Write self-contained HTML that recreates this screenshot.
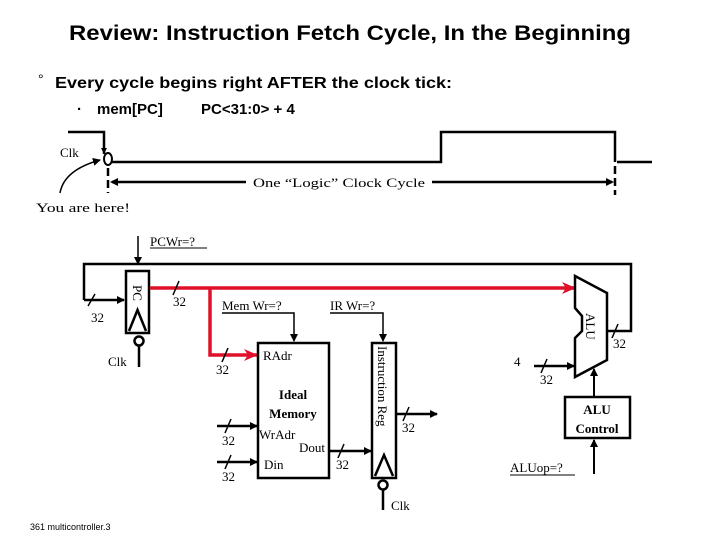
<!DOCTYPE html>
<html><head><meta charset="utf-8"><style>
html,body{margin:0;padding:0;background:#fff;}
svg{display:block;}
.s{font-family:"Liberation Serif",serif;font-size:13px;fill:#000;}
</style></head><body>
<svg width="720" height="540" viewBox="0 0 720 540" xmlns="http://www.w3.org/2000/svg">
<defs>
<marker id="a" markerWidth="8" markerHeight="8" refX="7" refY="4" orient="auto" markerUnits="userSpaceOnUse"><path d="M0,0 L8,4 L0,8 Z" fill="#000"/></marker>
<marker id="r" markerWidth="14" markerHeight="12" refX="13" refY="6" orient="auto" markerUnits="userSpaceOnUse"><path d="M0,0 L14,6 L0,12 L4,6 Z" fill="#e0102a"/></marker>
</defs>
<text x="350" y="40" text-anchor="middle" font-family="Liberation Sans,sans-serif" font-weight="bold" font-size="21" textLength="562" lengthAdjust="spacingAndGlyphs">Review: Instruction Fetch Cycle, In the Beginning</text>
<text x="38" y="84" font-family="Liberation Sans,sans-serif" font-size="14">°</text>
<text x="55" y="88" font-family="Liberation Sans,sans-serif" font-weight="bold" font-size="16" textLength="397" lengthAdjust="spacingAndGlyphs">Every cycle begins right AFTER the clock tick:</text>
<text x="77" y="114" font-family="Liberation Sans,sans-serif" font-weight="bold" font-size="15">·</text>
<text x="97" y="114" font-family="Liberation Sans,sans-serif" font-weight="bold" font-size="15">mem[PC]</text>
<text x="201" y="114" font-family="Liberation Sans,sans-serif" font-weight="bold" font-size="15">PC&lt;31:0&gt; + 4</text>

<!-- clock waveform -->
<g stroke="#000" stroke-width="2.5" fill="none">
<polyline points="68,132 104,132 104,154"/>
<polyline points="111,162 441,162 441,132 615,132 615,162"/>
<line x1="617" y1="162" x2="652" y2="162"/>
<line x1="108" y1="168" x2="108" y2="193" stroke-dasharray="8,4"/>
<line x1="615" y1="166" x2="615" y2="195" stroke-dasharray="8,4"/>
<line x1="112" y1="182" x2="246" y2="182"/>
<line x1="432" y1="182" x2="612" y2="182"/>
</g>
<ellipse cx="108" cy="159" rx="4" ry="6" fill="none" stroke="#000" stroke-width="2"/>
<path d="M104,154 l-3,-6 h6 z" fill="#000"/>
<path d="M110,182 l8,-4 v8 z" fill="#000"/>
<path d="M614,182 l-8,-4 v8 z" fill="#000"/>
<path d="M60,193 Q64,170 100,160" stroke="#000" stroke-width="1.5" fill="none" marker-end="url(#a)"/>
<text class="s" x="60" y="157">Clk</text>
<text class="s" x="253" y="187" textLength="172" lengthAdjust="spacingAndGlyphs">One “Logic” Clock Cycle</text>
<text class="s" x="36" y="212" textLength="94" lengthAdjust="spacingAndGlyphs">You are here!</text>

<!-- PCWr -->
<line x1="138" y1="236" x2="138" y2="264" stroke="#000" stroke-width="1.5" marker-end="url(#a)"/>
<text class="s" x="150" y="246">PCWr=?</text>
<line x1="150" y1="248" x2="207" y2="248" stroke="#000"/>

<!-- loop -->
<g stroke="#000" stroke-width="2.5" fill="none">
<polyline points="84,300 84,264 631,264 631,331 607,331"/>
<line x1="84" y1="300" x2="124" y2="300" marker-end="url(#a)"/>
<line x1="139" y1="346" x2="139" y2="367"/>
<line x1="383" y1="489" x2="383" y2="510"/>
</g>
<!-- PC -->
<rect x="126" y="271" width="23" height="62" fill="#fff" stroke="#000" stroke-width="2.5"/>
<text class="s" transform="translate(133,285) rotate(90)" font-size="14">PC</text>
<path d="M129,331 L137.5,310 L146,331" fill="none" stroke="#000" stroke-width="2.5"/>
<circle cx="139" cy="341" r="4.5" fill="#fff" stroke="#000" stroke-width="2.5"/>
<text class="s" x="108" y="366">Clk</text>
<line x1="88" y1="306" x2="95" y2="294" stroke="#000" stroke-width="1.5"/>
<text class="s" x="91" y="322">32</text>

<!-- red lines -->
<g stroke="#e0102a" stroke-width="3.5" fill="none">
<line x1="150" y1="288" x2="575" y2="288" marker-end="url(#r)"/>
<polyline points="210,288 210,355 257,355" marker-end="url(#r)"/>
</g>
<line x1="173" y1="295" x2="179" y2="281" stroke="#000" stroke-width="1.5"/>
<text class="s" x="173" y="306">32</text>
<line x1="222" y1="362" x2="228" y2="348" stroke="#000" stroke-width="1.5"/>
<text class="s" x="216" y="374">32</text>

<!-- MemWr / IRWr -->
<text class="s" x="222" y="310">Mem Wr=?</text>
<polyline points="222,313 294,313 294,341" stroke="#000" stroke-width="1.5" fill="none" marker-end="url(#a)"/>
<text class="s" x="330" y="310">IR Wr=?</text>
<polyline points="330,313 383,313 383,341" stroke="#000" stroke-width="1.5" fill="none" marker-end="url(#a)"/>

<!-- memory -->
<rect x="258" y="343" width="71" height="135" fill="#fff" stroke="#000" stroke-width="2.5"/>
<text class="s" x="263" y="360">RAdr</text>
<text class="s" x="293" y="399" text-anchor="middle" font-weight="bold" font-size="14">Ideal</text>
<text class="s" x="293" y="418" text-anchor="middle" font-weight="bold" font-size="14">Memory</text>
<text class="s" x="259" y="439">WrAdr</text>
<text class="s" x="299" y="452">Dout</text>
<text class="s" x="264" y="469">Din</text>
<line x1="217" y1="426" x2="257" y2="426" stroke="#000" stroke-width="2.5" marker-end="url(#a)"/>
<line x1="225" y1="433" x2="231" y2="419" stroke="#000" stroke-width="1.5"/>
<text class="s" x="222" y="445">32</text>
<line x1="217" y1="462" x2="257" y2="462" stroke="#000" stroke-width="2.5" marker-end="url(#a)"/>
<line x1="225" y1="469" x2="231" y2="455" stroke="#000" stroke-width="1.5"/>
<text class="s" x="222" y="481">32</text>
<line x1="330" y1="451" x2="371" y2="451" stroke="#000" stroke-width="2.5" marker-end="url(#a)"/>
<line x1="338" y1="458" x2="344" y2="444" stroke="#000" stroke-width="1.5"/>
<text class="s" x="336" y="469">32</text>

<!-- IR -->
<rect x="372" y="343" width="24" height="135" fill="#fff" stroke="#000" stroke-width="2.5"/>
<text class="s" transform="translate(378,346) rotate(90)" font-size="14">Instruction Reg</text>
<path d="M375,476 L384,455 L393,476" fill="none" stroke="#000" stroke-width="2.5"/>
<circle cx="383" cy="485" r="4.5" fill="#fff" stroke="#000" stroke-width="2.5"/>
<text class="s" x="391" y="510">Clk</text>
<line x1="397" y1="414" x2="437" y2="414" stroke="#000" stroke-width="2.5" marker-end="url(#a)"/>
<line x1="403" y1="421" x2="409" y2="407" stroke="#000" stroke-width="1.5"/>
<text class="s" x="402" y="432">32</text>

<!-- ALU -->
<path d="M575,276 L607,293 L607,360 L575,377 L575,338 L582,331 L582,316 L575,308 Z" fill="#fff" stroke="#000" stroke-width="2.5"/>
<text class="s" transform="translate(586,313) rotate(90)" font-size="14">ALU</text>
<line x1="612" y1="338" x2="618" y2="324" stroke="#000" stroke-width="1.5"/>
<text class="s" x="613" y="348">32</text>
<text class="s" x="514" y="366" font-size="14">4</text>
<line x1="534" y1="366" x2="574" y2="366" stroke="#000" stroke-width="2.5" marker-end="url(#a)"/>
<line x1="541" y1="373" x2="547" y2="359" stroke="#000" stroke-width="1.5"/>
<text class="s" x="540" y="384">32</text>
<rect x="565" y="397" width="65" height="41" fill="#fff" stroke="#000" stroke-width="2.5"/>
<text class="s" x="597" y="414" text-anchor="middle" font-weight="bold" font-size="14">ALU</text>
<text class="s" x="597" y="433" text-anchor="middle" font-weight="bold" font-size="14">Control</text>
<line x1="594" y1="396" x2="594" y2="369" stroke="#000" stroke-width="2" marker-end="url(#a)"/>
<line x1="594" y1="474" x2="594" y2="440" stroke="#000" stroke-width="2" marker-end="url(#a)"/>
<text class="s" x="510" y="472">ALUop=?</text>
<line x1="510" y1="475" x2="575" y2="475" stroke="#000"/>

<text x="30" y="530" font-family="Liberation Sans,sans-serif" font-size="9">361 multicontroller.3</text>
</svg>
</body></html>
